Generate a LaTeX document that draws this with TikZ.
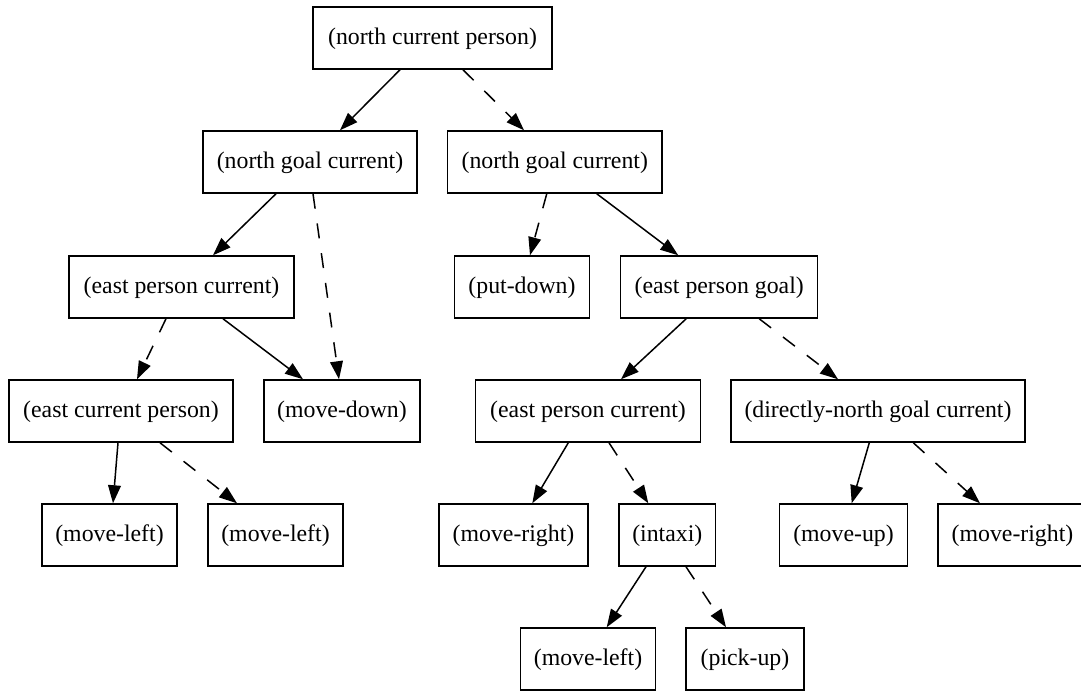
\documentclass[tikz,border=0pt]{standalone}
\usepackage{fontspec}
\setmainfont{Liberation Serif}
\usetikzlibrary{arrows.meta,calc}

\tikzset{
  box/.style={draw, line width=0.75pt, rectangle, inner sep=0pt,
    minimum height=31pt, text height=8.6pt, text depth=2.2pt,
    font=\fontsize{11.9}{14}\selectfont},
  edge/.style={line width=0.75pt, -{Triangle[length=9pt,width=6.4pt]}},
  dashedge/.style={edge, dash pattern=on 7.5pt off 7.5pt},
}

\begin{document}
\begin{tikzpicture}[x=0.5pt, y=-0.5pt]
  \path[use as bounding box] (0,0) rectangle (1081,692);
  \clip (0,0) rectangle (1081,692);

  % row 1
  \node[box, minimum width=119.5pt] (root)  at (432.5,38)  {(north current person)};
  % row 2
  \node[box, minimum width=107pt]   (lg)    at (310,162)   {(north goal current)};
  \node[box, minimum width=107.25pt] (rg)   at (554.75,162) {(north goal current)};
  % row 3
  \node[box, minimum width=112.5pt] (lepc)  at (181.5,287) {(east person current)};
  \node[box, minimum width=67.5pt]  (pd)    at (522,287)   {(put-down)};
  \node[box, minimum width=98.5pt]  (epg)   at (719.2,287) {(east person goal)};
  % row 4
  \node[box, minimum width=112pt]   (ecp)   at (121,411)   {(east current person)};
  \node[box, minimum width=78pt]    (md)    at (342,411)   {(move-down)};
  \node[box, minimum width=112.5pt] (repc)  at (588,411)   {(east person current)};
  \node[box, minimum width=147pt]   (dn)    at (878,411)   {(directly-north goal current)};
  % row 5
  \node[box, minimum width=67.5pt]  (mla)   at (109.5,535) {(move-left)};
  \node[box, minimum width=67.5pt]  (mlb)   at (275.5,535) {(move-left)};
  \node[box, minimum width=74.5pt]  (mra)   at (513.5,535) {(move-right)};
  \node[box, minimum width=48.4pt]  (intaxi) at (667.3,535) {(intaxi)};
  \node[box, minimum width=64.2pt]  (mu)    at (843.5,535) {(move-up)};
  \node[box, minimum width=74.5pt]  (mrb)   at (1012.5,535) {(move-right)};
  % row 6
  \node[box, minimum width=67.5pt]  (mlc)   at (588,659)   {(move-left)};
  \node[box, minimum width=59pt]    (pu)    at (745,659)   {(pick-up)};

  % connectors: solid = first branch, dashed = second branch
  \draw[edge]     ($(root.south)+(-32.5,0)$) -- ($(lg.north)+(30,0)$);
  \draw[dashedge] ($(root.south)+(30.5,0)$)  -- ($(rg.north)+(-30.75,0)$);

  \draw[edge]     ($(lg.south)+(-34,0)$) -- ($(lepc.north)+(31.5,0)$);
  \draw[dashedge] ($(lg.south)+(3,0)$)   -- ($(md.north)+(-3,0)$);

  \draw[dashedge] ($(rg.south)+(-8,0)$)  -- ($(pd.north)+(8,0)$);
  \draw[edge]     ($(rg.south)+(42,0)$)  -- ($(epg.north)+(-41,0)$);

  \draw[dashedge] ($(lepc.south)+(-15.5,0)$) -- ($(ecp.north)+(16,0)$);
  \draw[edge]     ($(lepc.south)+(41.5,0)$)  -- ($(md.north)+(-39,0)$);

  \draw[edge]     ($(epg.south)+(-33,0)$) -- ($(repc.north)+(33,0)$);
  \draw[dashedge] ($(epg.south)+(40,0)$)  -- ($(dn.north)+(-40,0)$);

  \draw[edge]     ($(ecp.south)+(-3,0)$) -- ($(mla.north)+(3.5,0)$);
  \draw[dashedge] ($(ecp.south)+(39,0)$) -- ($(mlb.north)+(-38.5,0)$);

  \draw[edge]     ($(repc.south)+(-19.7,0)$) -- ($(mra.north)+(18.8,0)$);
  \draw[dashedge] ($(repc.south)+(21,0)$)    -- ($(intaxi.north)+(-19,0)$);

  \draw[edge]     ($(dn.south)+(-8.7,0)$) -- ($(mu.north)+(8.2,0)$);
  \draw[dashedge] ($(dn.south)+(35.3,0)$) -- ($(mrb.north)+(-32.5,0)$);

  \draw[edge]     ($(intaxi.south)+(-21.3,0)$) -- ($(mlc.north)+(18.7,0)$);
  \draw[dashedge] ($(intaxi.south)+(18.7,0)$)  -- ($(pu.north)+(-19,0)$);
\end{tikzpicture}
\end{document}
